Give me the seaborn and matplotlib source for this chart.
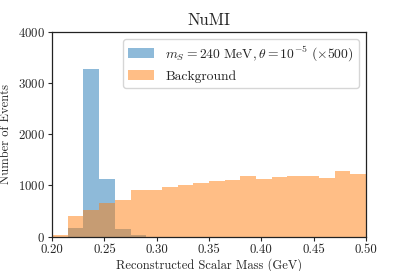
import matplotlib
matplotlib.use("Agg")
import matplotlib.pyplot as plt
import seaborn as sns
import numpy as np

# bin edges of the histogram (GeV)
bin_edges = [0.200, 0.215, 0.230, 0.245, 0.260, 0.275, 0.290, 0.305, 0.320, 0.335,
             0.350, 0.365, 0.380, 0.395, 0.410, 0.425, 0.440, 0.455, 0.470, 0.485, 0.500]

# signal counts per bin (already scaled x500)
signal_counts = [0, 160, 3275, 1126, 143, 30, 0, 0, 0, 0,
                 0, 0, 0, 0, 0, 0, 0, 0, 0, 0]

# background counts per bin
background_counts = [33, 410, 521, 658, 710, 905, 905, 963, 1003, 1040,
                     1084, 1103, 1188, 1123, 1168, 1175, 1188, 1136, 1286, 1214]

signal_label = r"$m_S = 240\ \mathrm{MeV}, \theta = 10^{-5}\ (\times 500)$"
background_label = "Background"

sns.set_theme(style="white")
plt.rcParams["font.family"] = "serif"
plt.rcParams["font.serif"] = ["cmr10", "DejaVu Serif"]
plt.rcParams["mathtext.fontset"] = "cm"
plt.rcParams["axes.formatter.use_mathtext"] = True

centers = [(a + b) / 2 for a, b in zip(bin_edges[:-1], bin_edges[1:])]

fig, ax = plt.subplots(figsize=(4.07, 2.71), dpi=100)
fig.subplots_adjust(left=0.128, right=0.899, bottom=0.127, top=0.882)

sns.histplot(x=centers, weights=signal_counts, bins=bin_edges, color="#1f77b4",
             alpha=0.5, linewidth=0, label=signal_label, ax=ax)
sns.histplot(x=centers, weights=background_counts, bins=bin_edges, color="#ff7f0e",
             alpha=0.5, linewidth=0, label=background_label, ax=ax)

ax.set_xlim(0.2, 0.5)
ax.set_ylim(0, 4000)
ax.set_xticks([0.20, 0.25, 0.30, 0.35, 0.40, 0.45, 0.50])
ax.set_xticklabels(["0.20", "0.25", "0.30", "0.35", "0.40", "0.45", "0.50"])
ax.set_yticks([0, 1000, 2000, 3000, 4000])
ax.tick_params(axis="both", labelsize=9.3, length=3, width=0.8, direction="out",
               bottom=True, left=True, pad=2)
for s in ax.spines.values():
    s.set_color("#222222")
    s.set_linewidth(0.9)

ax.set_title("NuMI", fontsize=12, pad=5)
ax.set_xlabel("Reconstructed Scalar Mass (GeV)", fontsize=9, labelpad=2)
ax.set_ylabel("Number of Events", fontsize=9, labelpad=4)
ax.legend(loc="upper right", fontsize=9.8, frameon=True, fancybox=True,
          edgecolor="#cccccc", handlelength=1.9)

fig.savefig("out.png", dpi=100)
